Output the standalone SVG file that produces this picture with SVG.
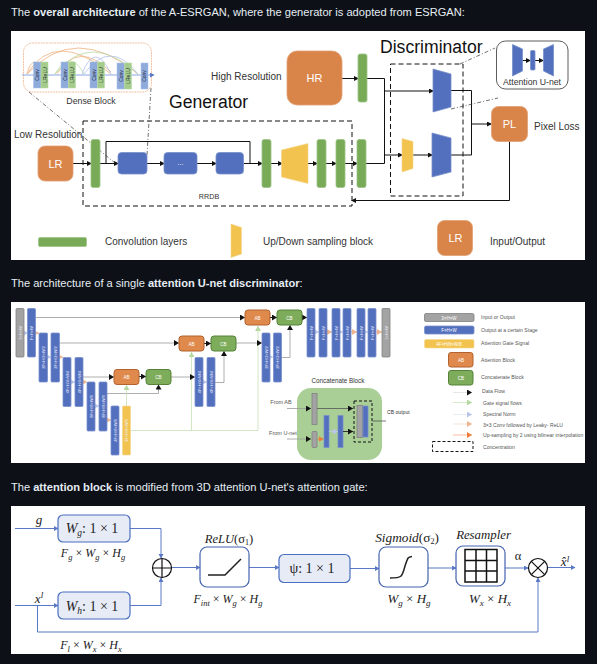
<svg xmlns="http://www.w3.org/2000/svg" width="597" height="664" viewBox="0 0 597 664">
<defs>
<style>
text{font-family:"Liberation Sans",Arial,sans-serif;fill:#222}
.h{font-size:11.1px;fill:#e6edf3}
.h tspan{font-weight:bold}
.big{font-size:17.6px;fill:#111;-webkit-text-stroke:.25px #111}
.lb{font-size:10px;fill:#333}
.io{fill:#d9854a;stroke:#e0a074;stroke-width:.8}
.iot{font-size:11px;fill:#fff;text-anchor:middle}
.g{fill:#78aa58;stroke:#9dc486;stroke-width:.8}
.b{fill:#5270bd;stroke:#7a90cc;stroke-width:.8}
.y{fill:#f2c34e;stroke:#f5d78e;stroke-width:.6}
.gr{fill:#a3a3a3;stroke:#808080;stroke-width:.8}
.l{fill:none;stroke:#111;stroke-width:1}
.ls{fill:none;stroke:#999;stroke-width:.8}
.dash{fill:none;stroke:#111;stroke-width:1;stroke-dasharray:5 3}
.dd{fill:none;stroke:#333;stroke-width:.7;stroke-dasharray:4 2 1 2}
.sm{font-size:4px;fill:#eef;text-anchor:middle}
.ab{fill:#df8a4c;stroke:#b2622d;stroke-width:1}
.cb{fill:#7dac5b;stroke:#558238;stroke-width:1}
.bt{font-size:4.6px;fill:#fff;text-anchor:middle}
.le{font-size:5.1px;fill:#555}
.c{font-size:5.5px;fill:#555;text-anchor:middle}
.blu{fill:none;stroke:#5b78c6;stroke-width:1}
.box{fill:#e7ebf6;stroke:#4a6fc0;stroke-width:1.2}
.wbox{fill:#fff;stroke:#4463ae;stroke-width:1.2}
.m{font-family:"Liberation Serif","DejaVu Serif",serif;font-style:italic;fill:#222;text-anchor:middle;font-size:12.6px}
.n{font-family:"Liberation Serif","DejaVu Serif",serif;fill:#222;font-size:12.5px}
.conv{font-size:5px;fill:#223;text-anchor:middle}
</style>
<marker id="k" markerWidth="6" markerHeight="6" refX="4" refY="2.5" orient="auto" markerUnits="userSpaceOnUse"><path d="M0 0L5 2.5L0 5z" fill="#111"/></marker>
<marker id="k2" markerWidth="7" markerHeight="7" refX="5" refY="3" orient="auto" markerUnits="userSpaceOnUse"><path d="M0 0L5 3L0 6z" fill="#111"/></marker>
<marker id="bl" markerWidth="6" markerHeight="6" refX="4" refY="2.5" orient="auto" markerUnits="userSpaceOnUse"><path d="M0 0L4.500 2.500L0 5z" fill="#5b78c6"/></marker>
<marker id="gn" markerWidth="7" markerHeight="7" refX="5" refY="3" orient="auto" markerUnits="userSpaceOnUse"><path d="M0 0L5 3L0 6z" fill="#b5d8a0"/></marker>
<marker id="lv" markerWidth="7" markerHeight="7" refX="5" refY="3" orient="auto" markerUnits="userSpaceOnUse"><path d="M0 0L5 3L0 6z" fill="#b9c6ea"/></marker>
<marker id="lo" markerWidth="7" markerHeight="7" refX="5" refY="3" orient="auto" markerUnits="userSpaceOnUse"><path d="M0 0L5 3L0 6z" fill="#eeb48e"/></marker>
<marker id="or" markerWidth="7" markerHeight="7" refX="5" refY="3" orient="auto" markerUnits="userSpaceOnUse"><path d="M0 0L5 3L0 6z" fill="#ee7c3a"/></marker>
</defs>
<rect width="597" height="664" fill="#0d1117"/>
<text class="h" x="11" y="16">The <tspan>overall architecture</tspan> of the A-ESRGAN, where the generator is adopted from ESRGAN:</text>
<text class="h" x="11" y="287">The architecture of a single <tspan>attention U-net discriminator</tspan>:</text>
<text class="h" x="11" y="491">The <tspan>attention block</tspan> is modified from 3D attention U-net's attention gate:</text>
<rect x="11" y="31" width="574" height="229" fill="#fff"/>
<rect x="11" y="302" width="574" height="161" fill="#fff"/>
<rect x="11" y="506" width="574" height="148" fill="#fff"/>

<g id="connectors-top">
<path class="l" d="M73 163.500H91" marker-end="url(#k)"/>
<path class="l" d="M100 163.500H118" marker-end="url(#k)"/>
<path class="l" d="M147 163.500H164" marker-end="url(#k)"/>
<path class="l" d="M197 163.500H216" marker-end="url(#k)"/>
<path class="l" d="M243 163.500H262" marker-end="url(#k)"/>
<path class="l" d="M271 163.500H282" marker-end="url(#k)"/>
<path class="l" d="M308 163.500H317" marker-end="url(#k)"/>
<path class="l" d="M326 163.500H336" marker-end="url(#k)"/>
<path class="l" d="M345 163.500H357" marker-end="url(#k)"/>
<path class="l" d="M106 163.500V141.500H250V163.500"/>
<path class="l" d="M342 78.500H358" marker-end="url(#k)"/>
<path class="l" d="M367 78.500H384.500V163.500H366"/>
<path class="l" d="M384.500 91H433" marker-end="url(#k)"/>
<path class="l" d="M384.500 155H402" marker-end="url(#k)"/>
<path class="l" d="M413 155H432" marker-end="url(#k)"/>
<path class="l" d="M451 90.500H471.500V155H451"/>
<path class="l" d="M471.500 124H491" marker-end="url(#k)"/>
<path class="l" d="M509.500 141V200.500H352" marker-end="url(#k)"/>
<path class="dash" d="M83 121H352V206H83z"/>
<path class="dash" d="M390.500 64H463V196H390.500z"/>
<path class="dd" d="M29 92L115 163"/>
<path class="dd" d="M151 88L147 155"/>
<path class="dd" d="M460 64L495 48"/>
<path class="dd" d="M451 109L498 98"/>
</g>

<g id="dense-block">
<rect x="23.500" y="43" width="128" height="49" rx="9" fill="none" stroke="#efb38a" stroke-width=".8" stroke-dasharray="2 .7"/>
<path fill="none" stroke="#eeb17f" stroke-width=".8" d="M27 74Q33 50 47 74M27 74Q55 28 111 74M27 74Q75 22 138 74M57 74Q78 40 111 72"/>
<path fill="none" stroke="#b9d8a4" stroke-width=".8" d="M55 74Q70 48 84 74M55 74Q90 30 138 74"/>
<path fill="none" stroke="#b0c0ea" stroke-width=".8" d="M82 74Q95 40 111 74M84 74Q110 38 138 74"/>
<path d="M22 75H154" stroke="#7d9de0" stroke-width=".9" marker-end="url(#bl)"/>
<g fill="#8eabdb" stroke="#a9c0e6" stroke-width=".5"><rect x="33.500" y="62" width="7.500" height="26"/><rect x="61" y="62" width="7.500" height="26"/><rect x="90" y="62" width="7.500" height="26"/><rect x="117" y="63" width="7.500" height="26"/><rect x="141" y="63" width="7" height="26"/></g>
<g fill="#a4cd8b" stroke="#b9d8a4" stroke-width=".5"><rect x="41" y="62" width="7" height="26"/><rect x="68.500" y="62" width="7" height="26"/><rect x="97.500" y="62" width="7" height="26"/><rect x="124.500" y="63" width="7" height="26"/></g>
<text class="conv" transform="translate(39 75) rotate(-90)">Conv</text>
<text class="conv" transform="translate(46.500 75) rotate(-90)">LReLU</text>
<text class="conv" transform="translate(66.500 75) rotate(-90)">Conv</text>
<text class="conv" transform="translate(74 75) rotate(-90)">LReLU</text>
<text class="conv" transform="translate(95.500 75) rotate(-90)">Conv</text>
<text class="conv" transform="translate(103 75) rotate(-90)">LReLU</text>
<text class="conv" transform="translate(122.500 76) rotate(-90)">Conv</text>
<text class="conv" transform="translate(130 76) rotate(-90)">LReLU</text>
<text class="conv" transform="translate(146 76) rotate(-90)">Conv</text>
<text x="91" y="103.500" text-anchor="middle" style="font-size:8.800px;fill:#333">Dense Block</text>
</g>

<g id="labels-top">
<text class="big" x="169" y="107.500">Generator</text>
<text class="big" x="380" y="52.500">Discriminator</text>
<text class="lb" x="211" y="79.500">High Resolution</text>
<text class="lb" x="14" y="138">Low Resolution</text>
<text class="lb" x="534" y="130">Pixel Loss</text>
<text x="209" y="199" text-anchor="middle" style="font-size:7.200px;fill:#333">RRDB</text>
<text class="lb" x="105" y="245">Convolution layers</text>
<text class="lb" x="263" y="244.500">Up/Down sampling block</text>
<text class="lb" x="490" y="245">Input/Output</text>
</g>

<g id="node-lr"><rect class="io" x="38" y="146" width="35" height="35" rx="7"/><text class="iot" x="55.500" y="167.500">LR</text></g>
<g id="node-hr"><rect class="io" x="287" y="51" width="55" height="54" rx="10"/><text class="iot" x="314.500" y="82">HR</text></g>
<g id="node-pl"><rect class="io" x="491.500" y="106.500" width="36" height="35" rx="7"/><text class="iot" x="509.500" y="128">PL</text></g>
<g id="node-lr-legend"><rect class="io" x="437.500" y="220.500" width="35" height="35" rx="7"/><text class="iot" x="455.500" y="242">LR</text></g>

<g id="generator-blocks">
<rect class="g" x="91" y="139.500" width="9" height="48" rx="2"/>
<rect class="b" x="118" y="152.500" width="29" height="21.500" rx="3.500"/>
<rect class="b" x="164" y="152.500" width="33" height="21.500" rx="3.500"/>
<text x="180.500" y="165" text-anchor="middle" style="font-size:7px;fill:#fff">...</text>
<rect class="b" x="216" y="152.500" width="27.500" height="21.500" rx="3.500"/>
<rect class="g" x="262" y="139.500" width="9" height="48" rx="2"/>
<path class="y" d="M281.500 150L308 143.500V183.500L281.500 177z"/>
<rect class="g" x="317" y="139.500" width="9" height="48" rx="2"/>
<rect class="g" x="336" y="139.500" width="9" height="48" rx="2"/>
<rect class="g" x="357" y="139.500" width="9" height="48" rx="2"/>
<rect class="g" x="358" y="54" width="9" height="48" rx="2"/>
</g>
<g id="discriminator-blocks">
<path class="b" d="M433 69L451 74V107L433 112z"/>
<path class="b" d="M432 133L451 138V172L432 177z"/>
<path class="y" d="M402 138.500L413 141.500V168.500L402 172z"/>
</g>
<g id="attention-unet">
<rect x="496.500" y="41" width="71.500" height="48" rx="9" fill="#fff" stroke="#333" stroke-width=".8"/>
<path class="l" d="M522 60.500H530" marker-end="url(#k)"/>
<path class="l" d="M535 60.500H543" marker-end="url(#k)"/>
<path class="b" d="M512.500 44.500L522.500 49V71L512.500 76z"/>
<rect class="b" x="530.500" y="50.500" width="4.500" height="19.500" rx="1"/>
<path class="b" d="M543.500 49L553.500 44.500V76L543.500 71z"/>
<text x="532" y="84.500" text-anchor="middle" style="font-size:8.700px;fill:#333">Attention U-net</text>
</g>
<g id="legend-top">
<rect class="g" x="38.500" y="237.500" width="48" height="9" rx="1.500"/>
<path class="y" d="M231 224L241.500 227.500V254L231 257.500z"/>
</g>

<g id="connectors-unet">
<path class="ls" d="M35.500 317.500H245" marker-end="url(#k2)"/>
<path class="ls" d="M59.500 343H179" marker-end="url(#k2)"/>
<path class="ls" d="M83 377H114" marker-end="url(#k2)"/>
<path class="ls" d="M107 393.500H158.500V384.500" marker-end="url(#k2)"/>
<path fill="none" stroke="#c5e0b4" stroke-width=".8" d="M130.500 430.500H258V326" marker-end="url(#gn)"/>
<path fill="none" stroke="#c5e0b4" stroke-width=".8" d="M126.500 406V385" marker-end="url(#gn)"/>
<path fill="none" stroke="#c5e0b4" stroke-width=".8" d="M191.500 430.500V352" marker-end="url(#gn)"/>
<path class="l" d="M139 376.500H146" marker-end="url(#k2)"/>
<path class="l" d="M204 343.500H211" marker-end="url(#k2)"/>
<path class="l" d="M270 317.500H277" marker-end="url(#k2)"/>
<path class="l" d="M302 317.500H307" marker-end="url(#k2)"/>
<path class="ls" d="M171 377H195" marker-end="url(#k2)"/>
<path class="ls" d="M215 382.500H224V351" marker-end="url(#k2)"/>
<path class="ls" d="M236 343H262" marker-end="url(#k2)"/>
<path class="ls" d="M281 357.500H290V325" marker-end="url(#k2)"/>
<g stroke="#c5d0ee" stroke-width=".8" fill="none"><path d="M24 333H28" marker-end="url(#lv)"/><path d="M47.500 357H51" marker-end="url(#lv)"/><path d="M71 382H75" marker-end="url(#lv)"/><path d="M95 406H99" marker-end="url(#lv)"/><path d="M315 332H319" marker-end="url(#lv)"/><path d="M340 332H343" marker-end="url(#lv)"/><path d="M365 332H368" marker-end="url(#lv)"/><path d="M203 382H207" marker-end="url(#lv)"/><path d="M270 357H273" marker-end="url(#lv)"/></g>
<g stroke="#eeb48e" stroke-width=".8" fill="none"><path d="M35.500 333H39" marker-end="url(#lo)"/><path d="M59.500 357H63" marker-end="url(#lo)"/><path d="M83 382H87" marker-end="url(#lo)"/><path d="M107 420H111" marker-end="url(#lo)"/><path d="M327 332H332" marker-end="url(#lo)"/><path d="M351 332H357" marker-end="url(#lo)"/><path d="M376 332H382" marker-end="url(#lo)"/></g>
</g>

<g id="unet-blocks">
<rect class="gr" x="16" y="308.500" width="8" height="48.500" rx="1"/><text class="sm" transform="translate(21.500 333) rotate(-90)">3×H×W</text>
<rect class="b" x="27.500" y="308.500" width="8" height="48.500" rx="1"/><text class="sm" transform="translate(33 333) rotate(-90)">F×H×W</text>
<rect class="b" x="39" y="333" width="8.500" height="49" rx="1"/><text class="sm" transform="translate(45 357.500) rotate(-90)">2F×H/2×W/2</text>
<rect class="b" x="51" y="333" width="8.500" height="49" rx="1"/><text class="sm" transform="translate(57 357.500) rotate(-90)">2F×H/2×W/2</text>
<rect class="b" x="63" y="357.500" width="8" height="49" rx="1"/><text class="sm" transform="translate(68.500 382) rotate(-90)">4F×H/4×W/4</text>
<rect class="b" x="75" y="357.500" width="8" height="49" rx="1"/><text class="sm" transform="translate(80.500 382) rotate(-90)">4F×H/4×W/4</text>
<rect class="b" x="87" y="382" width="8" height="49" rx="1"/><text class="sm" transform="translate(92.500 406.500) rotate(-90)">8F×H/8×W/8</text>
<rect class="b" x="99" y="382" width="8" height="49" rx="1"/><text class="sm" transform="translate(104.500 406.500) rotate(-90)">8F×H/8×W/8</text>
<rect class="b" x="111" y="406" width="8" height="49" rx="1"/><text class="sm" transform="translate(116.500 430.500) rotate(-90)">4F×H/8×W/8</text>
<rect class="y" x="122.500" y="406" width="8" height="49" rx="1"/><text class="sm" transform="translate(128 430.500) rotate(-90)">4F×H/8×W/8</text>
<rect class="b" x="195" y="357.500" width="8" height="49" rx="1"/><text class="sm" transform="translate(200.500 382) rotate(-90)">4F×H/4×W/4</text>
<rect class="b" x="207" y="357.500" width="8" height="49" rx="1"/><text class="sm" transform="translate(212.500 382) rotate(-90)">4F×H/4×W/4</text>
<rect class="b" x="262" y="333" width="8" height="49" rx="1"/><text class="sm" transform="translate(267.500 357.500) rotate(-90)">2F×H/2×W/2</text>
<rect class="b" x="273.500" y="333" width="8" height="49" rx="1"/><text class="sm" transform="translate(279 357.500) rotate(-90)">2F×H/2×W/2</text>
<rect class="b" x="307" y="308.500" width="8" height="48.500" rx="1"/><text class="sm" transform="translate(312.500 333) rotate(-90)">F×H×W</text>
<rect class="b" x="319" y="308.500" width="8" height="48.500" rx="1"/><text class="sm" transform="translate(324.500 333) rotate(-90)">F×H×W</text>
<rect class="b" x="332" y="308.500" width="8" height="48.500" rx="1"/><text class="sm" transform="translate(337.500 333) rotate(-90)">F×H×W</text>
<rect class="b" x="343" y="308.500" width="8" height="48.500" rx="1"/><text class="sm" transform="translate(348.500 333) rotate(-90)">F×H×W</text>
<rect class="b" x="357" y="308.500" width="8" height="48.500" rx="1"/><text class="sm" transform="translate(362.500 333) rotate(-90)">F×H×W</text>
<rect class="b" x="368" y="308.500" width="8" height="48.500" rx="1"/><text class="sm" transform="translate(373.500 333) rotate(-90)">F×H×W</text>
<rect class="gr" x="382" y="308.500" width="8" height="48.500" rx="1"/><text class="sm" transform="translate(387.500 333) rotate(-90)">1×H×W</text>
</g>
<g id="node-ab1"><rect class="ab" x="245" y="310" width="25" height="15" rx="3"/><text class="bt" x="257.500" y="319.500">AB</text></g>
<g id="node-cb1"><rect class="cb" x="277" y="310" width="25" height="15" rx="3"/><text class="bt" x="289.500" y="319.500">CB</text></g>
<g id="node-ab2"><rect class="ab" x="179" y="336" width="25" height="15" rx="3"/><text class="bt" x="191.500" y="345.500">AB</text></g>
<g id="node-cb2"><rect class="cb" x="211" y="336" width="25" height="15" rx="3"/><text class="bt" x="223.500" y="345.500">CB</text></g>
<g id="node-ab3"><rect class="ab" x="114" y="369.500" width="25" height="15" rx="3"/><text class="bt" x="126.500" y="379">AB</text></g>
<g id="node-cb3"><rect class="cb" x="146" y="369.500" width="25" height="15" rx="3"/><text class="bt" x="158.500" y="379">CB</text></g>

<g id="concat-block">
<text x="338" y="383" text-anchor="middle" style="font-size:6.300px;fill:#333">Concatenate Block</text>
<rect x="297" y="388" width="85" height="72" rx="14" fill="#a9cf96"/>
<rect class="gr" x="312" y="393.500" width="5" height="31"/>
<rect class="gr" x="312" y="431.500" width="5" height="16" rx="1"/>
<rect class="b" x="324" y="415.500" width="5" height="32"/>
<rect class="b" x="338" y="415.500" width="5" height="32"/>
<rect class="gr" x="357" y="405.500" width="5.500" height="32"/>
<rect class="b" x="363" y="406" width="5" height="31"/>
<path class="dash" style="stroke-dasharray:3 2" d="M354 401H372V442H354z"/>
<path class="ls" d="M287 408.500H311" marker-end="url(#k2)"/>
<path class="ls" d="M317 408.500H353" style="stroke:#555" marker-end="url(#k2)"/>
<path class="ls" d="M287 439H311" marker-end="url(#k2)"/>
<path d="M317.500 439H323.500" stroke="#ee7c3a" marker-end="url(#or)"/>
<path d="M329 431.500H338" stroke="#b9c6ea" marker-end="url(#lv)"/>
<path d="M343 431.500H353" stroke="#333" marker-end="url(#k2)"/>
<path class="ls" d="M372 421H386" style="stroke:#555"/>
<text class="c" x="281" y="404">From AB</text>
<text class="c" x="283" y="435">From U-net</text>
<text class="le" x="387" y="414" style="fill:#333">CB output</text>
</g>

<g id="legend-unet">
<rect class="gr" x="424.500" y="313.500" width="49.500" height="8" rx="1.500"/><text class="bt" x="449" y="319.500" style="font-size:4.500px">3×H×W</text>
<rect class="b" x="424.500" y="326" width="49.500" height="8" rx="1.500"/><text class="bt" x="449" y="332" style="font-size:4.500px">F×H×W</text>
<rect class="y" x="424.500" y="339.500" width="49.500" height="8.500" rx="1.500"/><text class="bt" x="449" y="345.500" style="font-size:4.500px">4F×H/8×W/8</text>
<rect class="ab" x="448.500" y="352.500" width="24.500" height="14.500" rx="2.500"/><text class="bt" x="461" y="361.500">AB</text>
<rect class="cb" x="448.500" y="370.500" width="24.500" height="14.500" rx="2.500"/><text class="bt" x="461" y="379.500">CB</text>
<text class="le" x="481" y="319">Input or Output</text>
<text class="le" x="481" y="332">Output at a certain Stage</text>
<text class="le" x="481" y="345">Attention Gate Signal</text>
<text class="le" x="481" y="361.500">Attention Block</text>
<text class="le" x="481" y="379">Concatenate Block</text>
<text class="le" x="482" y="393">Data Flow</text>
<text class="le" x="483" y="404.500">Gate signal flows</text>
<text class="le" x="483" y="416">Spectral Norm</text>
<text class="le" x="483" y="426.500">3×3 Conv followed by Leaky- ReLU</text>
<text class="le" x="483" y="436.500">Up-sampling by 2 using bilinear interpolation</text>
<text class="le" x="483" y="449">Concentration</text>
<path d="M453 392.500H472" stroke="#ddd" stroke-width=".7" marker-end="url(#k2)"/>
<path d="M453 402.500H472" stroke="#c5e0b4" stroke-width=".7" marker-end="url(#gn)"/>
<path d="M453 414.500H472" stroke="#dde4f5" stroke-width=".7" marker-end="url(#lv)"/>
<path d="M453 424H472" stroke="#f5d5c0" stroke-width=".7" marker-end="url(#lo)"/>
<path d="M453 435H472" stroke="#f0a47a" stroke-width=".7" marker-end="url(#or)"/>
<path class="dash" style="stroke-dasharray:3 2" d="M432.500 441.500H473V451.500H432.500z"/>
</g>

<g id="connectors-attn">
<path class="blu" d="M15 528.500H58" marker-end="url(#bl)"/>
<path class="blu" d="M15 605.500H58" marker-end="url(#bl)"/>
<path class="blu" d="M130 528.500H161V558" marker-end="url(#bl)"/>
<path class="blu" d="M130 605.500H161V578" marker-end="url(#bl)"/>
<path class="blu" d="M171.500 567.500H200" marker-end="url(#bl)"/>
<path class="blu" d="M249 567.500H279" marker-end="url(#bl)"/>
<path class="blu" d="M350 568.500H379" marker-end="url(#bl)"/>
<path class="blu" d="M428 568H456" marker-end="url(#bl)"/>
<path class="blu" d="M505 568H528" marker-end="url(#bl)"/>
<path class="blu" d="M547.500 567.500H575" marker-end="url(#bl)"/>
<path class="blu" d="M37.500 605.500V632H538V578" marker-end="url(#bl)"/>
</g>
<g id="node-wg"><rect class="box" x="58" y="515" width="72" height="27" rx="5"/><text class="m" x="92" y="533" style="font-size:14px">W<tspan dy="3" font-size="9.500">g</tspan><tspan dy="-3" font-style="normal">: 1 × 1</tspan></text></g>
<g id="node-wh"><rect class="box" x="58" y="592" width="72" height="27" rx="5"/><text class="m" x="92" y="610.500" style="font-size:14px">W<tspan dy="3" font-size="9.500">h</tspan><tspan dy="-3" font-style="normal">: 1 × 1</tspan></text></g>
<g id="node-sum"><circle cx="162" cy="568" r="9.500" fill="#fff" stroke="#111" stroke-width="1.200"/><path d="M152.500 568H171.500M162 558.500V577.500" stroke="#111" stroke-width="1.200"/></g>
<g id="node-relu"><rect class="wbox" x="200" y="547" width="49" height="40" rx="7"/><path d="M208 575H225L241 559" fill="none" stroke="#222" stroke-width="1.500"/><text class="m" x="229" y="543">ReLU<tspan font-style="normal">(σ</tspan><tspan dy="2" font-size="8" font-style="normal">1</tspan><tspan dy="-2" font-style="normal">)</tspan></text></g>
<g id="node-psi"><rect class="box" x="279" y="554.500" width="71" height="28" rx="5"/><text class="n" x="312" y="573" text-anchor="middle" style="font-size:14px">ψ: 1 × 1</text></g>
<g id="node-sigmoid"><rect class="wbox" x="379" y="547" width="49" height="40" rx="7"/><path d="M390 578C402 578 402 577 405 566C408 557 408 557 412 556.500" fill="none" stroke="#222" stroke-width="1.500"/><text class="m" x="407" y="542" style="font-size:13.300px">Sigmoid<tspan font-style="normal">(σ</tspan><tspan dy="2" font-size="8" font-style="normal">2</tspan><tspan dy="-2" font-style="normal">)</tspan></text></g>
<g id="node-resampler"><rect class="wbox" x="456" y="546" width="49" height="40" rx="7"/><path d="M465 549.500H497V582H465zM465 560.500H497M465 571H497M476 549.500V582M486.500 549.500V582" fill="none" stroke="#111" stroke-width="1.500"/><text class="m" x="483.500" y="539" style="font-size:12.800px">Resampler</text></g>
<g id="node-mul"><circle cx="538" cy="568" r="9.500" fill="#fff" stroke="#111" stroke-width="1.200"/><path d="M531.300 561.300L544.700 574.700M544.700 561.300L531.300 574.700" stroke="#111" stroke-width="1.200"/></g>
<g id="labels-attn">
<text class="m" x="39" y="524" style="font-size:13px">g</text>
<text class="m" x="39" y="603" style="font-size:13px">x<tspan dy="-5" font-size="9">l</tspan></text>
<text class="m" x="93" y="557" style="font-size:12px">F<tspan dy="2.500" font-size="8.500">g</tspan><tspan dy="-2.500" font-style="normal"> × </tspan>W<tspan dy="2.500" font-size="8.500">g</tspan><tspan dy="-2.500" font-style="normal"> × </tspan>H<tspan dy="2.500" font-size="8.500">g</tspan></text>
<text class="m" x="228" y="603" style="font-size:12px">F<tspan dy="2.500" font-size="8.500">int</tspan><tspan dy="-2.500" font-style="normal"> × </tspan>W<tspan dy="2.500" font-size="8.500">g</tspan><tspan dy="-2.500" font-style="normal"> × </tspan>H<tspan dy="2.500" font-size="8.500">g</tspan></text>
<text class="m" x="409" y="603" style="font-size:13px">W<tspan dy="2.500" font-size="9">g</tspan><tspan dy="-2.500" font-style="normal"> × </tspan>H<tspan dy="2.500" font-size="9">g</tspan></text>
<text class="m" x="490" y="603" style="font-size:13px">W<tspan dy="2.500" font-size="9">x</tspan><tspan dy="-2.500" font-style="normal"> × </tspan>H<tspan dy="2.500" font-size="9">x</tspan></text>
<text class="m" x="91" y="649" style="font-size:12px">F<tspan dy="2.500" font-size="8.500">l</tspan><tspan dy="-2.500" font-style="normal"> × </tspan>W<tspan dy="2.500" font-size="8.500">x</tspan><tspan dy="-2.500" font-style="normal"> × </tspan>H<tspan dy="2.500" font-size="8.500">x</tspan></text>
<text class="n" x="518" y="560" text-anchor="middle">α</text>
<text class="m" x="565" y="566" style="font-size:13px">x̂<tspan dy="-4" font-size="9">l</tspan></text>
</g>
</svg>
